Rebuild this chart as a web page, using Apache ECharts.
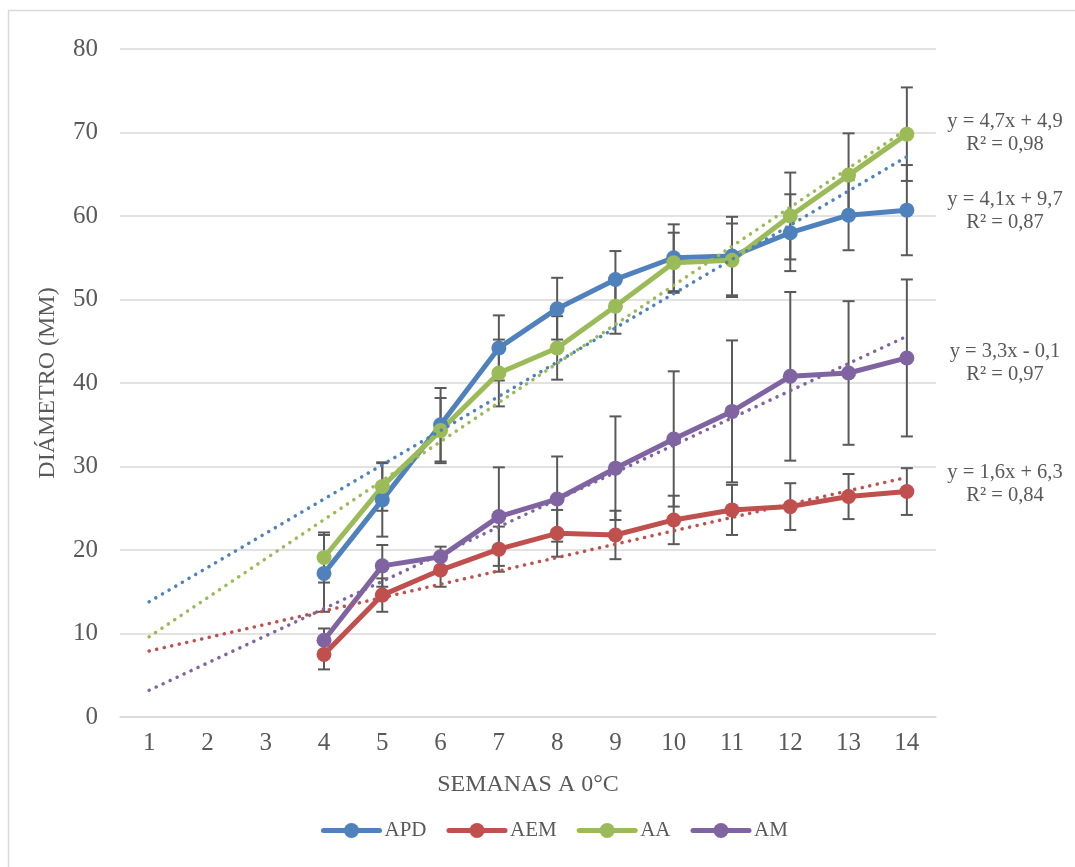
<!DOCTYPE html>
<html><head><meta charset="utf-8">
<script src="https://cdn.jsdelivr.net/npm/echarts@6/dist/echarts.min.js"></script>
<style>html,body{margin:0;padding:0;background:#fff}#c{width:1075px;height:867px}</style>
</head><body><div id="c"></div>
<script>
const categories = ['1','2','3','4','5','6','7','8','9','10','11','12','13','14'];
const seriesNames = ['APD','AEM','AA','AM'];
const colors = ['#4F81BD','#C0504D','#9BBB59','#8064A2'];

const apd    = [null,null,null,17.2,26.0,35.0,44.2,48.9,52.4,55.0,55.2,58.0,60.1,60.7];
const apdErr = [null,null,null, 4.6, 4.4, 4.4, 3.9, 3.7, 3.4, 4.0, 4.7, 4.6, 4.2, 5.4];
const aem    = [null,null,null, 7.5,14.6,17.6,20.1,22.0,21.8,23.6,24.8,25.2,26.4,27.0];
const aemErr = [null,null,null, 1.8, 2.0, 2.0, 2.7, 2.8, 2.9, 2.9, 3.0, 2.8, 2.7, 2.8];
const aa     = [null,null,null,19.1,27.6,34.3,41.2,44.2,49.2,54.4,54.7,60.0,64.9,69.8];
const aaErr  = [null,null,null, 3.0, 2.9, 3.9, 4.0, 3.8, 3.3, 3.6, 4.4, 5.2, 5.0, 5.6];
const am     = [null,null,null, 9.2,18.1,19.2,24.0,26.1,29.8,33.3,36.6,40.8,41.2,43.0];
const amErr  = [null,null,null, 1.4, 2.5, 1.2, 5.9, 5.1, 6.2, 8.1, 8.5,10.1, 8.6, 9.4];

// trendline end values (at week 1 and week 14)
const trendStart = [13.8, 7.9, 9.6, 3.2];
const trendEnd   = [67.1, 28.7, 70.4, 45.6];
const trendEq = ['y = 4,1x + 9,7','y = 1,6x + 6,3','y = 4,7x + 4,9','y = 3,3x - 0,1'];
const trendR2 = ['R² = 0,87','R² = 0,84','R² = 0,98','R² = 0,97'];

const yTicks = {min:0, max:80, interval:10};
const FONT = '"Liberation Serif", "DejaVu Serif", serif';
const TXT = '#595959';

const vals = [apd, aem, aa, am];
const errs = [apdErr, aemErr, aaErr, amErr];

function errSeries(v, e) {
  const data = [];
  v.forEach((y, i) => { if (y != null) data.push([i, y - e[i], y + e[i]]); });
  return {
    type: 'custom', silent: true, z: 1,
    encode: {x: 0, y: [1, 2]},
    data,
    renderItem: (params, api) => {
      const x = api.value(0);
      const lo = api.coord([x, api.value(1)]);
      const hi = api.coord([x, api.value(2)]);
      const hw = 6;
      const st = {stroke: '#595959', lineWidth: 2};
      return {type: 'group', children: [
        {type: 'line', shape: {x1: lo[0], y1: lo[1], x2: hi[0], y2: hi[1]}, style: st},
        {type: 'line', shape: {x1: lo[0]-hw, y1: lo[1], x2: lo[0]+hw, y2: lo[1]}, style: st},
        {type: 'line', shape: {x1: hi[0]-hw, y1: hi[1], x2: hi[0]+hw, y2: hi[1]}, style: st}
      ]};
    }
  };
}

const series = [];
vals.forEach((v, k) => series.push(errSeries(v, errs[k])));
vals.forEach((v, k) => series.push({
  name: seriesNames[k], type: 'line', data: v, z: 3,
  symbol: 'circle', symbolSize: 15, showSymbol: true,
  lineStyle: {width: 5, color: colors[k], cap: 'round'},
  itemStyle: {color: colors[k]},
  emphasis: {disabled: true}
}));
vals.forEach((v, k) => series.push({
  type: 'line', z: 4, silent: true, symbol: 'none',
  data: [[categories[0], trendStart[k]], [categories[categories.length-1], trendEnd[k]]],
  lineStyle: {width: 3.5, color: colors[k], type: [0.1, 7.6], cap: 'round'},
  emphasis: {disabled: true}
}));

// equation label positions (centre x, y of first line)
const eqPos = [[1005, 200], [1005, 473], [1005, 122], [1005, 352]];
const graphics = [{
  type: 'rect', shape: {x: 8.5, y: 10.5, width: 1100, height: 900},
  style: {fill: 'none', stroke: '#d9d9d9', lineWidth: 1.5}, silent: true
}];
eqPos.forEach((p, k) => {
  graphics.push({type: 'text', x: p[0], y: p[1], style: {text: trendEq[k], font: '20.5px ' + FONT, fill: TXT, align: 'center', verticalAlign: 'middle'}});
  graphics.push({type: 'text', x: p[0], y: p[1] + 23, style: {text: trendR2[k], font: '20.5px ' + FONT, fill: TXT, align: 'center', verticalAlign: 'middle'}});
});

const chart = echarts.init(document.getElementById('c'), null, {renderer: 'canvas'});
chart.setOption({
  animation: false,
  backgroundColor: '#fff',
  grid: {left: 120, right: 139, top: 49, bottom: 150},
  legend: {
    data: seriesNames, top: 820, left: 321, padding: 0,
    itemWidth: 56, itemHeight: 19, itemGap: 20,
    lineStyle: {width: 5, cap: 'round'},
    textStyle: {fontFamily: FONT, fontSize: 21, color: TXT}
  },
  xAxis: {
    type: 'category', data: categories, boundaryGap: true,
    axisTick: {show: false},
    axisLine: {lineStyle: {color: '#d9d9d9', width: 1.5}},
    axisLabel: {fontFamily: FONT, fontSize: 25, color: TXT, margin: 14},
    name: 'SEMANAS A 0°C', nameLocation: 'middle', nameGap: 56,
    nameTextStyle: {fontFamily: FONT, fontSize: 24, color: TXT}
  },
  yAxis: {
    type: 'value', min: yTicks.min, max: yTicks.max, interval: yTicks.interval,
    axisLine: {show: false}, axisTick: {show: false},
    splitLine: {lineStyle: {color: '#d9d9d9', width: 1.5}},
    axisLabel: {fontFamily: FONT, fontSize: 25, color: TXT, margin: 22},
    name: 'DIÁMETRO (MM)', nameLocation: 'middle', nameGap: 60,
    nameTextStyle: {fontFamily: FONT, fontSize: 24, color: TXT}
  },
  graphic: graphics,
  series
});
</script></body></html>
